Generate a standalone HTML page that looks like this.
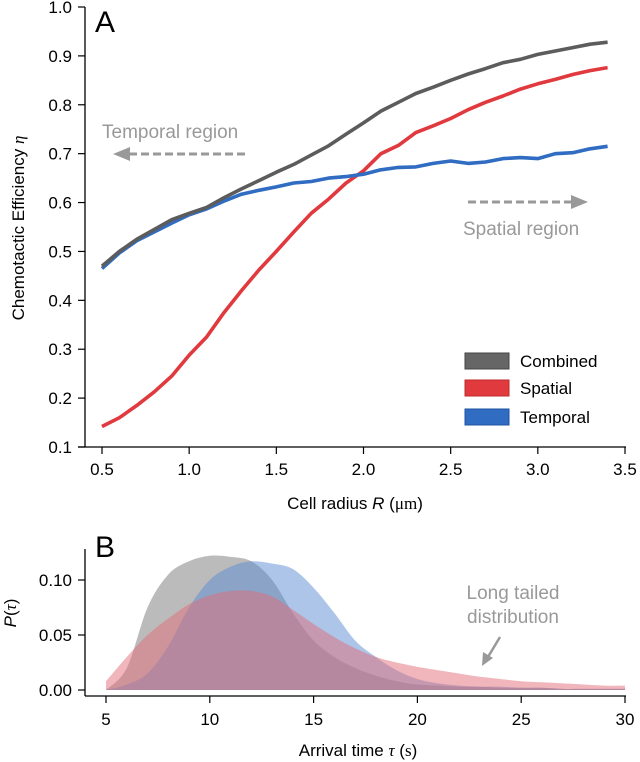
<!DOCTYPE html>
<html><head><meta charset="utf-8">
<style>
body{margin:0;background:#fff;}
svg{display:block;font-family:"Liberation Sans",sans-serif;}
</style></head>
<body>
<svg id="fig" width="640" height="762" viewBox="0 0 640 762">
</svg>
<script>
// ---- Panel A data ----
const radiusValues = [0.5,0.6,0.7,0.8,0.9,1.0,1.1,1.2,1.3,1.4,1.5,1.6,1.7,1.8,1.9,2.0,2.1,2.2,2.3,2.4,2.5,2.6,2.7,2.8,2.9,3.0,3.1,3.2,3.3,3.4];
const combinedEff = [0.47,0.50,0.525,0.545,0.565,0.578,0.59,0.61,0.628,0.645,0.662,0.678,0.697,0.716,0.74,0.763,0.787,0.805,0.823,0.836,0.85,0.863,0.874,0.886,0.893,0.903,0.91,0.917,0.924,0.928];
const spatialEff = [0.142,0.16,0.185,0.213,0.245,0.288,0.325,0.375,0.42,0.462,0.5,0.54,0.578,0.607,0.64,0.665,0.7,0.717,0.743,0.757,0.772,0.79,0.805,0.818,0.832,0.843,0.852,0.862,0.87,0.876];
const temporalEff = [0.465,0.497,0.522,0.54,0.558,0.575,0.587,0.603,0.617,0.625,0.632,0.64,0.643,0.65,0.653,0.658,0.667,0.672,0.673,0.68,0.685,0.68,0.683,0.69,0.692,0.69,0.70,0.702,0.71,0.715];
const xTicksA = [0.5,1.0,1.5,2.0,2.5,3.0,3.5];
const yTicksA = [0.1,0.2,0.3,0.4,0.5,0.6,0.7,0.8,0.9,1.0];
// ---- Panel B data ----
const tauValues = [5,6,7,8,9,10,11,12,13,14,15,16,17,18,19,20,21,22,23,24,25,26,27,28,29,30];
const combinedP = [0,0.02,0.075,0.105,0.117,0.122,0.121,0.117,0.1,0.07,0.045,0.03,0.02,0.013,0.008,0.005,0.004,0.003,0.003,0.002,0.002,0.002,0.001,0.001,0.001,0.001];
const temporalP = [0,0.005,0.015,0.04,0.075,0.1,0.112,0.117,0.115,0.11,0.093,0.07,0.045,0.03,0.018,0.01,0.006,0.004,0.003,0.003,0.002,0.002,0.001,0.001,0.001,0.001];
const spatialP = [0.008,0.03,0.05,0.065,0.078,0.086,0.09,0.09,0.085,0.073,0.06,0.048,0.038,0.03,0.025,0.021,0.018,0.015,0.012,0.01,0.008,0.007,0.006,0.005,0.004,0.004];
const xTicksB = [5,10,15,20,25,30];
const yTicksB = [0.00,0.05,0.10];

const NS="http://www.w3.org/2000/svg";
const svg=document.getElementById('fig');
function mk(tag,attrs,parent){const e=document.createElementNS(NS,tag);for(const k in attrs)e.setAttribute(k,attrs[k]);(parent||svg).appendChild(e);return e;}

const xA=v=>102+(v-0.5)*(625-102)/3.0;
const yA=v=>447-(v-0.1)*(447-7)/0.9;
const xB=v=>106+(v-5)*(625-106)/25;
const yB=v=>690-v*(690-580)/0.10;
const FS=17;

// ---- Panel A axes ----
let g=mk('g',{});


let e=mk('line',{x1:85,y1:7,x2:85,y2:447,stroke:'#000','stroke-width':1.3},g);

e=mk('line',{x1:78,y1:447,x2:626,y2:447,stroke:'#000','stroke-width':1.3},g);

yTicksA.forEach(t=>{
  mk('line',{x1:78,y1:yA(t),x2:85,y2:yA(t),stroke:'#000','stroke-width':1.2},g);
  const tx=mk('text',{x:72,y:yA(t)+6,'text-anchor':'end','font-size':FS},g);
  tx.textContent=t.toFixed(1);
  
});
xTicksA.forEach(t=>{
  mk('line',{x1:xA(t),y1:447,x2:xA(t),y2:454,stroke:'#000','stroke-width':1.2},g);
  const tx=mk('text',{x:xA(t),y:475,'text-anchor':'middle','font-size':FS},g);
  tx.textContent=t.toFixed(1);
  
});
e=mk('text',{x:355,y:509,'text-anchor':'middle','font-size':FS},g);
e.innerHTML='Cell radius <tspan font-style="italic">R</tspan> (<tspan font-family="Liberation Serif">μm</tspan>)';

e=mk('text',{x:0,y:0,'text-anchor':'middle','font-size':FS,transform:'translate(24,228) rotate(-90)'},g);
e.innerHTML='Chemotactic Efficiency <tspan font-style="italic" font-family="Liberation Serif">η</tspan>';

e=mk('text',{x:95,y:32,'font-size':30},g);e.textContent='A';


function line(vals,color,name){
  const d=radiusValues.map((r,i)=>(i?'L':'M')+xA(r).toFixed(1)+','+yA(vals[i]).toFixed(1)).join(' ');
  const p=mk('path',{d:d,fill:'none',stroke:color,'stroke-width':3.6,'stroke-linejoin':'round'},g);
  
  
}
line(spatialEff,'#e0393e','spatial-line');
line(temporalEff,'#2f6cc2','temporal-line');
line(combinedEff,'#5c5c5c','combined-line');

e=mk('text',{x:102,y:138,'font-size':19,fill:'#999'},g);e.textContent='Temporal region';

e=mk('line',{x1:245,y1:154,x2:128,y2:154,stroke:'#999','stroke-width':3,'stroke-dasharray':'8,4'},g);

mk('polygon',{points:'113,154 130,147 130,161',fill:'#999'},g);
e=mk('text',{x:463,y:235,'font-size':19,fill:'#999'},g);e.textContent='Spatial region';

e=mk('line',{x1:468,y1:202,x2:573,y2:202,stroke:'#999','stroke-width':3,'stroke-dasharray':'8,4'},g);

mk('polygon',{points:'588,202 571,195 571,209',fill:'#999'},g);

const leg=[['Combined','#666','#444',361],['Spatial','#e0393e','#c02a2e',388],['Temporal','#2f6cc2','#1f55a0',417]];
leg.forEach(l=>{
  const r=mk('rect',{x:465,y:l[3]-8,width:44,height:16,fill:l[1],stroke:l[2],'stroke-width':1},g);
  
  const t=mk('text',{x:520,y:l[3]+6,'font-size':FS},g);t.textContent=l[0];
  
});

// ---- Panel B ----
let gb=mk('g',{});


function area(vals,fill,name){
  const pts=tauValues.map((t,i)=>[xB(t),yB(vals[i])]);
  let d='M'+pts[0][0].toFixed(1)+','+yB(0)+' L'+pts[0][0].toFixed(1)+','+pts[0][1].toFixed(1);
  for(let i=0;i<pts.length-1;i++){
    const p0=pts[Math.max(0,i-1)],p1=pts[i],p2=pts[i+1],p3=pts[Math.min(pts.length-1,i+2)];
    const c1=[p1[0]+(p2[0]-p0[0])/6,p1[1]+(p2[1]-p0[1])/6];
    const c2=[p2[0]-(p3[0]-p1[0])/6,p2[1]-(p3[1]-p1[1])/6];
    d+=` C${c1[0].toFixed(1)},${Math.min(c1[1],yB(0)).toFixed(1)} ${c2[0].toFixed(1)},${Math.min(c2[1],yB(0)).toFixed(1)} ${p2[0].toFixed(1)},${p2[1].toFixed(1)}`;
  }
  d+=' L'+pts[pts.length-1][0].toFixed(1)+','+yB(0)+' Z';
  const p=mk('path',{d:d,fill:fill,stroke:'none'},gb);
  
  
}
area(combinedP,'rgba(120,120,120,0.5)','combined-density');
area(temporalP,'rgba(90,140,210,0.5)','temporal-density');
area(spatialP,'rgba(225,110,120,0.5)','spatial-density');

e=mk('line',{x1:85,y1:549,x2:85,y2:696,stroke:'#000','stroke-width':1.3},gb);

e=mk('line',{x1:85,y1:696,x2:626,y2:696,stroke:'#000','stroke-width':1.3},gb);

yTicksB.forEach(t=>{
  mk('line',{x1:78,y1:yB(t),x2:85,y2:yB(t),stroke:'#000','stroke-width':1.2},gb);
  const tx=mk('text',{x:72,y:yB(t)+6,'text-anchor':'end','font-size':FS},gb);
  tx.textContent=t.toFixed(2);
  
});
xTicksB.forEach(t=>{
  mk('line',{x1:xB(t),y1:696,x2:xB(t),y2:703,stroke:'#000','stroke-width':1.2},gb);
  const tx=mk('text',{x:xB(t),y:725,'text-anchor':'middle','font-size':FS},gb);
  tx.textContent=t;
  
});
e=mk('text',{x:358,y:756,'text-anchor':'middle','font-size':FS},gb);
e.innerHTML='Arrival time <tspan font-style="italic" font-family="Liberation Serif">τ</tspan> (<tspan font-family="Liberation Serif">s</tspan>)';

e=mk('text',{x:0,y:0,'text-anchor':'middle','font-size':FS,transform:'translate(16,613) rotate(-90)'},gb);
e.innerHTML='<tspan font-style="italic">P</tspan>(<tspan font-style="italic" font-family="Liberation Serif">τ</tspan>)';

e=mk('text',{x:95,y:557,'font-size':30},gb);e.textContent='B';

e=mk('text',{x:513,y:599,'text-anchor':'middle','font-size':19,fill:'#999'},gb);e.textContent='Long tailed';

e=mk('text',{x:513,y:623,'text-anchor':'middle','font-size':19,fill:'#999'},gb);e.textContent='distribution';

e=mk('line',{x1:500,y1:637,x2:488,y2:657,stroke:'#999','stroke-width':2.5},gb);

mk('polygon',{points:'482,666 483,652 493,658',fill:'#999'},gb);
</script>
</body></html>
